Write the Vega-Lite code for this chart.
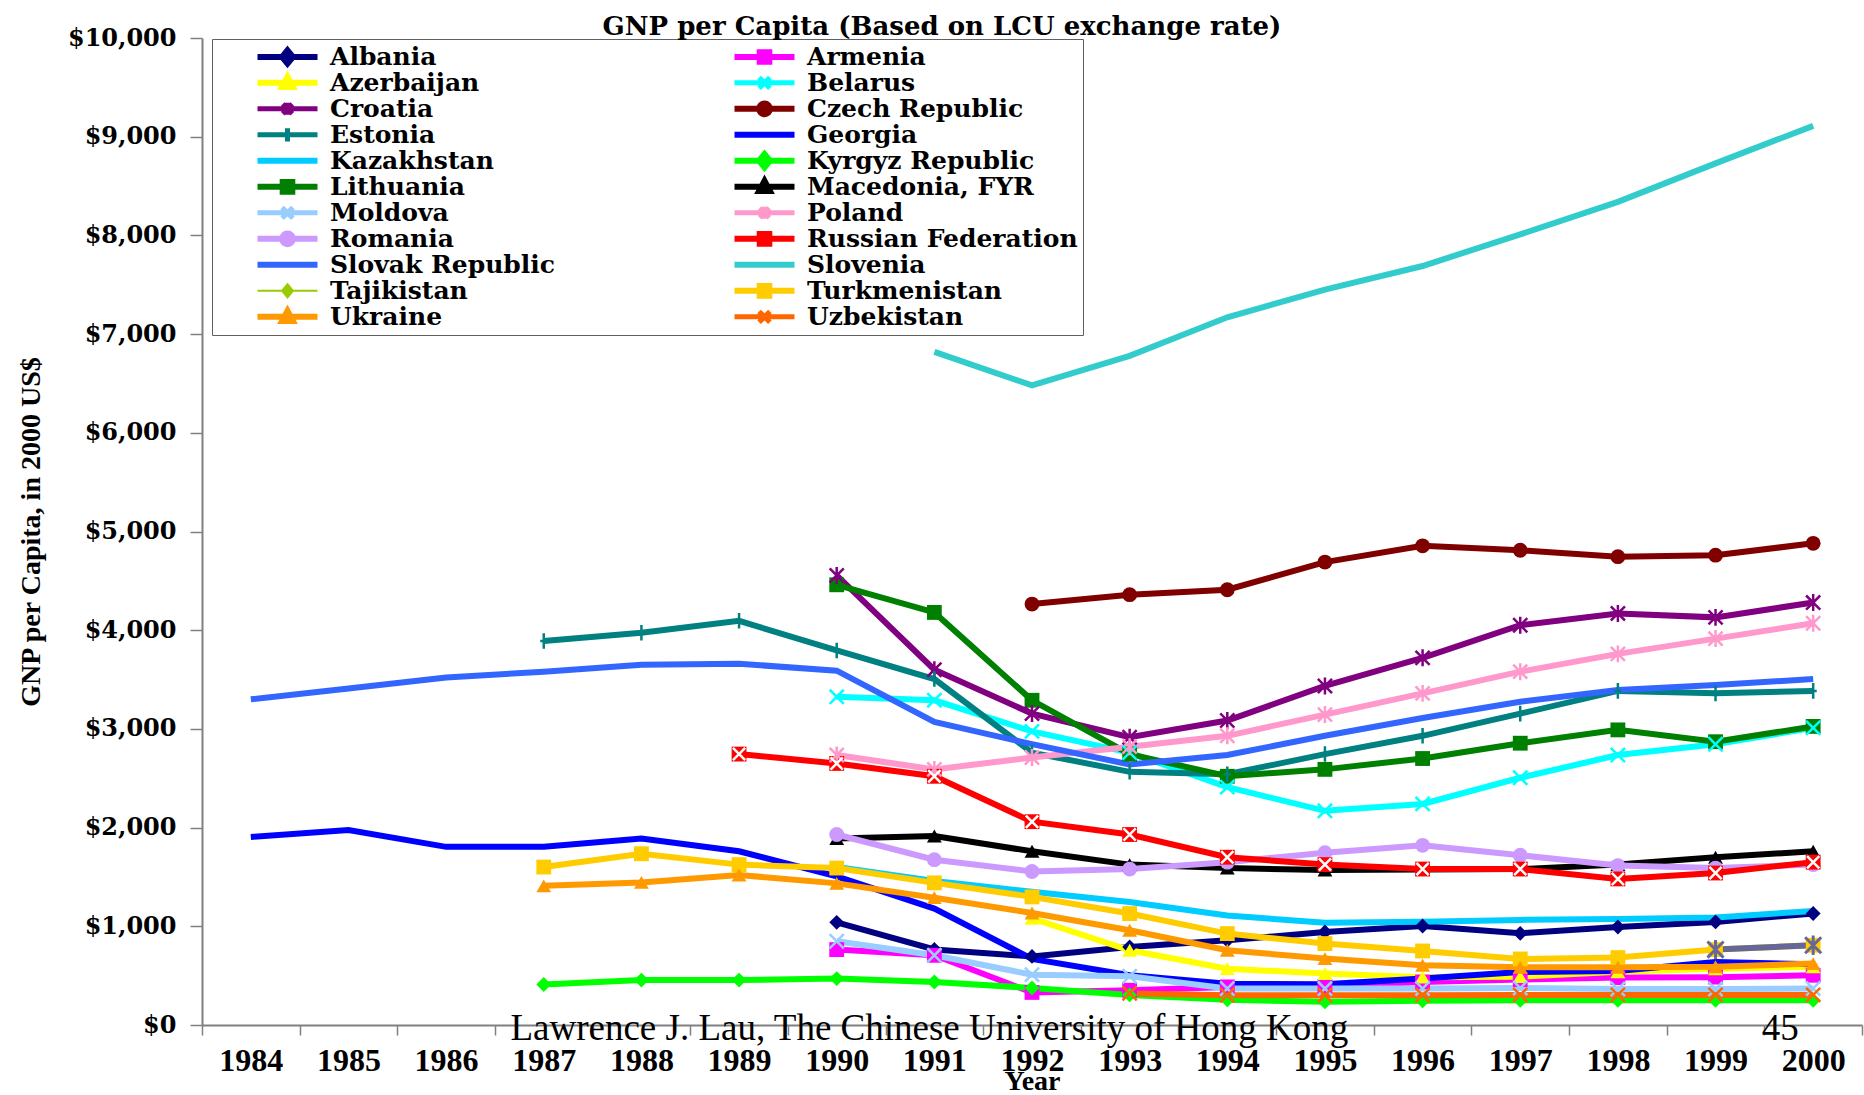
{
  "$schema": "https://vega.github.io/schema/vega-lite/v6.json",
  "autosize": {"type": "none"},
  "padding": {"left": 202, "top": 38, "right": 2, "bottom": 70},
  "width": 1660,
  "height": 987,
  "background": "white",
  "title": {
    "text": "GNP per Capita (Based on LCU exchange rate)",
    "font": "DejaVu Serif",
    "fontWeight": "bold",
    "fontSize": 26,
    "anchor": "middle",
    "frame": "group",
    "dx": -90,
    "offset": -14,
    "color": "black"
  },
  "datasets": {
    "gnp": [
      {"country": "Albania", "year": 1990, "v": 1040}, {"country": "Albania", "year": 1991, "v": 765}, {"country": "Albania", "year": 1992, "v": 695}, {"country": "Albania", "year": 1993, "v": 790}, {"country": "Albania", "year": 1994, "v": 858}, {"country": "Albania", "year": 1995, "v": 943}, {"country": "Albania", "year": 1996, "v": 1003}, {"country": "Albania", "year": 1997, "v": 929}, {"country": "Albania", "year": 1998, "v": 993}, {"country": "Albania", "year": 1999, "v": 1044}, {"country": "Albania", "year": 2000, "v": 1130},
      {"country": "Armenia", "year": 1990, "v": 764}, {"country": "Armenia", "year": 1991, "v": 706}, {"country": "Armenia", "year": 1992, "v": 330}, {"country": "Armenia", "year": 1993, "v": 352}, {"country": "Armenia", "year": 1994, "v": 386}, {"country": "Armenia", "year": 1995, "v": 392}, {"country": "Armenia", "year": 1996, "v": 436}, {"country": "Armenia", "year": 1997, "v": 460}, {"country": "Armenia", "year": 1998, "v": 480}, {"country": "Armenia", "year": 1999, "v": 485}, {"country": "Armenia", "year": 2000, "v": 504},
      {"country": "Azerbaijan", "year": 1992, "v": 1080}, {"country": "Azerbaijan", "year": 1993, "v": 757}, {"country": "Azerbaijan", "year": 1994, "v": 571}, {"country": "Azerbaijan", "year": 1995, "v": 521}, {"country": "Azerbaijan", "year": 1996, "v": 485}, {"country": "Azerbaijan", "year": 1997, "v": 490}, {"country": "Azerbaijan", "year": 1998, "v": 540}, {"country": "Azerbaijan", "year": 1999, "v": 570}, {"country": "Azerbaijan", "year": 2000, "v": 590},
      {"country": "Belarus", "year": 1990, "v": 3325}, {"country": "Belarus", "year": 1991, "v": 3290}, {"country": "Belarus", "year": 1992, "v": 2975}, {"country": "Belarus", "year": 1993, "v": 2760}, {"country": "Belarus", "year": 1994, "v": 2410}, {"country": "Belarus", "year": 1995, "v": 2170}, {"country": "Belarus", "year": 1996, "v": 2240}, {"country": "Belarus", "year": 1997, "v": 2505}, {"country": "Belarus", "year": 1998, "v": 2735}, {"country": "Belarus", "year": 1999, "v": 2845}, {"country": "Belarus", "year": 2000, "v": 3010},
      {"country": "Croatia", "year": 1990, "v": 4555}, {"country": "Croatia", "year": 1991, "v": 3600}, {"country": "Croatia", "year": 1992, "v": 3155}, {"country": "Croatia", "year": 1993, "v": 2915}, {"country": "Croatia", "year": 1994, "v": 3085}, {"country": "Croatia", "year": 1995, "v": 3435}, {"country": "Croatia", "year": 1996, "v": 3720}, {"country": "Croatia", "year": 1997, "v": 4050}, {"country": "Croatia", "year": 1998, "v": 4170}, {"country": "Croatia", "year": 1999, "v": 4130}, {"country": "Croatia", "year": 2000, "v": 4280},
      {"country": "Czech Republic", "year": 1992, "v": 4265}, {"country": "Czech Republic", "year": 1993, "v": 4360}, {"country": "Czech Republic", "year": 1994, "v": 4410}, {"country": "Czech Republic", "year": 1995, "v": 4690}, {"country": "Czech Republic", "year": 1996, "v": 4855}, {"country": "Czech Republic", "year": 1997, "v": 4810}, {"country": "Czech Republic", "year": 1998, "v": 4745}, {"country": "Czech Republic", "year": 1999, "v": 4760}, {"country": "Czech Republic", "year": 2000, "v": 4880},
      {"country": "Estonia", "year": 1987, "v": 3890}, {"country": "Estonia", "year": 1988, "v": 3975}, {"country": "Estonia", "year": 1989, "v": 4095}, {"country": "Estonia", "year": 1990, "v": 3795}, {"country": "Estonia", "year": 1991, "v": 3505}, {"country": "Estonia", "year": 1992, "v": 2760}, {"country": "Estonia", "year": 1993, "v": 2565}, {"country": "Estonia", "year": 1994, "v": 2540}, {"country": "Estonia", "year": 1995, "v": 2745}, {"country": "Estonia", "year": 1996, "v": 2930}, {"country": "Estonia", "year": 1997, "v": 3155}, {"country": "Estonia", "year": 1998, "v": 3385}, {"country": "Estonia", "year": 1999, "v": 3360}, {"country": "Estonia", "year": 2000, "v": 3385},
      {"country": "Georgia", "year": 1984, "v": 1905}, {"country": "Georgia", "year": 1985, "v": 1975}, {"country": "Georgia", "year": 1986, "v": 1805}, {"country": "Georgia", "year": 1987, "v": 1805}, {"country": "Georgia", "year": 1988, "v": 1890}, {"country": "Georgia", "year": 1989, "v": 1760}, {"country": "Georgia", "year": 1990, "v": 1505}, {"country": "Georgia", "year": 1991, "v": 1179}, {"country": "Georgia", "year": 1992, "v": 670}, {"country": "Georgia", "year": 1993, "v": 504}, {"country": "Georgia", "year": 1994, "v": 419}, {"country": "Georgia", "year": 1995, "v": 412}, {"country": "Georgia", "year": 1996, "v": 470}, {"country": "Georgia", "year": 1997, "v": 537}, {"country": "Georgia", "year": 1998, "v": 547}, {"country": "Georgia", "year": 1999, "v": 639}, {"country": "Georgia", "year": 2000, "v": 615},
      {"country": "Kazakhstan", "year": 1990, "v": 1600}, {"country": "Kazakhstan", "year": 1991, "v": 1460}, {"country": "Kazakhstan", "year": 1992, "v": 1350}, {"country": "Kazakhstan", "year": 1993, "v": 1247}, {"country": "Kazakhstan", "year": 1994, "v": 1110}, {"country": "Kazakhstan", "year": 1995, "v": 1035}, {"country": "Kazakhstan", "year": 1996, "v": 1045}, {"country": "Kazakhstan", "year": 1997, "v": 1065}, {"country": "Kazakhstan", "year": 1998, "v": 1075}, {"country": "Kazakhstan", "year": 1999, "v": 1090}, {"country": "Kazakhstan", "year": 2000, "v": 1155},
      {"country": "Kyrgyz Republic", "year": 1987, "v": 410}, {"country": "Kyrgyz Republic", "year": 1988, "v": 455}, {"country": "Kyrgyz Republic", "year": 1989, "v": 455}, {"country": "Kyrgyz Republic", "year": 1990, "v": 470}, {"country": "Kyrgyz Republic", "year": 1991, "v": 436}, {"country": "Kyrgyz Republic", "year": 1992, "v": 375}, {"country": "Kyrgyz Republic", "year": 1993, "v": 305}, {"country": "Kyrgyz Republic", "year": 1994, "v": 255}, {"country": "Kyrgyz Republic", "year": 1995, "v": 235}, {"country": "Kyrgyz Republic", "year": 1996, "v": 245}, {"country": "Kyrgyz Republic", "year": 1997, "v": 250}, {"country": "Kyrgyz Republic", "year": 1998, "v": 250}, {"country": "Kyrgyz Republic", "year": 1999, "v": 250}, {"country": "Kyrgyz Republic", "year": 2000, "v": 250},
      {"country": "Lithuania", "year": 1990, "v": 4460}, {"country": "Lithuania", "year": 1991, "v": 4180}, {"country": "Lithuania", "year": 1992, "v": 3290}, {"country": "Lithuania", "year": 1993, "v": 2745}, {"country": "Lithuania", "year": 1994, "v": 2520}, {"country": "Lithuania", "year": 1995, "v": 2590}, {"country": "Lithuania", "year": 1996, "v": 2700}, {"country": "Lithuania", "year": 1997, "v": 2855}, {"country": "Lithuania", "year": 1998, "v": 2990}, {"country": "Lithuania", "year": 1999, "v": 2870}, {"country": "Lithuania", "year": 2000, "v": 3025},
      {"country": "Macedonia, FYR", "year": 1990, "v": 1890}, {"country": "Macedonia, FYR", "year": 1991, "v": 1915}, {"country": "Macedonia, FYR", "year": 1992, "v": 1760}, {"country": "Macedonia, FYR", "year": 1993, "v": 1625}, {"country": "Macedonia, FYR", "year": 1994, "v": 1590}, {"country": "Macedonia, FYR", "year": 1995, "v": 1570}, {"country": "Macedonia, FYR", "year": 1996, "v": 1575}, {"country": "Macedonia, FYR", "year": 1997, "v": 1580}, {"country": "Macedonia, FYR", "year": 1998, "v": 1625}, {"country": "Macedonia, FYR", "year": 1999, "v": 1700}, {"country": "Macedonia, FYR", "year": 2000, "v": 1760},
      {"country": "Moldova", "year": 1990, "v": 848}, {"country": "Moldova", "year": 1991, "v": 706}, {"country": "Moldova", "year": 1992, "v": 510}, {"country": "Moldova", "year": 1993, "v": 494}, {"country": "Moldova", "year": 1994, "v": 369}, {"country": "Moldova", "year": 1995, "v": 369}, {"country": "Moldova", "year": 1996, "v": 370}, {"country": "Moldova", "year": 1997, "v": 375}, {"country": "Moldova", "year": 1998, "v": 365}, {"country": "Moldova", "year": 1999, "v": 365}, {"country": "Moldova", "year": 2000, "v": 370},
      {"country": "Poland", "year": 1990, "v": 2735}, {"country": "Poland", "year": 1991, "v": 2590}, {"country": "Poland", "year": 1992, "v": 2710}, {"country": "Poland", "year": 1993, "v": 2820}, {"country": "Poland", "year": 1994, "v": 2930}, {"country": "Poland", "year": 1995, "v": 3145}, {"country": "Poland", "year": 1996, "v": 3360}, {"country": "Poland", "year": 1997, "v": 3580}, {"country": "Poland", "year": 1998, "v": 3760}, {"country": "Poland", "year": 1999, "v": 3915}, {"country": "Poland", "year": 2000, "v": 4070},
      {"country": "Romania", "year": 1990, "v": 1930}, {"country": "Romania", "year": 1991, "v": 1675}, {"country": "Romania", "year": 1992, "v": 1555}, {"country": "Romania", "year": 1993, "v": 1580}, {"country": "Romania", "year": 1994, "v": 1650}, {"country": "Romania", "year": 1995, "v": 1745}, {"country": "Romania", "year": 1996, "v": 1820}, {"country": "Romania", "year": 1997, "v": 1720}, {"country": "Romania", "year": 1998, "v": 1615}, {"country": "Romania", "year": 1999, "v": 1590}, {"country": "Romania", "year": 2000, "v": 1625},
      {"country": "Russian Federation", "year": 1989, "v": 2745}, {"country": "Russian Federation", "year": 1990, "v": 2650}, {"country": "Russian Federation", "year": 1991, "v": 2520}, {"country": "Russian Federation", "year": 1992, "v": 2060}, {"country": "Russian Federation", "year": 1993, "v": 1930}, {"country": "Russian Federation", "year": 1994, "v": 1700}, {"country": "Russian Federation", "year": 1995, "v": 1625}, {"country": "Russian Federation", "year": 1996, "v": 1580}, {"country": "Russian Federation", "year": 1997, "v": 1580}, {"country": "Russian Federation", "year": 1998, "v": 1480}, {"country": "Russian Federation", "year": 1999, "v": 1540}, {"country": "Russian Federation", "year": 2000, "v": 1650},
      {"country": "Slovak Republic", "year": 1984, "v": 3300}, {"country": "Slovak Republic", "year": 1985, "v": 3410}, {"country": "Slovak Republic", "year": 1986, "v": 3520}, {"country": "Slovak Republic", "year": 1987, "v": 3580}, {"country": "Slovak Republic", "year": 1988, "v": 3650}, {"country": "Slovak Republic", "year": 1989, "v": 3660}, {"country": "Slovak Republic", "year": 1990, "v": 3590}, {"country": "Slovak Republic", "year": 1991, "v": 3070}, {"country": "Slovak Republic", "year": 1992, "v": 2845}, {"country": "Slovak Republic", "year": 1993, "v": 2640}, {"country": "Slovak Republic", "year": 1994, "v": 2735}, {"country": "Slovak Republic", "year": 1995, "v": 2930}, {"country": "Slovak Republic", "year": 1996, "v": 3110}, {"country": "Slovak Republic", "year": 1997, "v": 3275}, {"country": "Slovak Republic", "year": 1998, "v": 3395}, {"country": "Slovak Republic", "year": 1999, "v": 3445}, {"country": "Slovak Republic", "year": 2000, "v": 3505},
      {"country": "Slovenia", "year": 1991, "v": 6820}, {"country": "Slovenia", "year": 1992, "v": 6480}, {"country": "Slovenia", "year": 1993, "v": 6780}, {"country": "Slovenia", "year": 1994, "v": 7170}, {"country": "Slovenia", "year": 1995, "v": 7450}, {"country": "Slovenia", "year": 1996, "v": 7690}, {"country": "Slovenia", "year": 1997, "v": 8010}, {"country": "Slovenia", "year": 1998, "v": 8340}, {"country": "Slovenia", "year": 1999, "v": 8730}, {"country": "Slovenia", "year": 2000, "v": 9110},
      {"country": "Turkmenistan", "year": 1987, "v": 1600}, {"country": "Turkmenistan", "year": 1988, "v": 1735}, {"country": "Turkmenistan", "year": 1989, "v": 1625}, {"country": "Turkmenistan", "year": 1990, "v": 1590}, {"country": "Turkmenistan", "year": 1991, "v": 1440}, {"country": "Turkmenistan", "year": 1992, "v": 1298}, {"country": "Turkmenistan", "year": 1993, "v": 1129}, {"country": "Turkmenistan", "year": 1994, "v": 926}, {"country": "Turkmenistan", "year": 1995, "v": 825}, {"country": "Turkmenistan", "year": 1996, "v": 750}, {"country": "Turkmenistan", "year": 1997, "v": 669}, {"country": "Turkmenistan", "year": 1998, "v": 683}, {"country": "Turkmenistan", "year": 1999, "v": 764}, {"country": "Turkmenistan", "year": 2000, "v": 808},
      {"country": "Ukraine", "year": 1987, "v": 1410}, {"country": "Ukraine", "year": 1988, "v": 1445}, {"country": "Ukraine", "year": 1989, "v": 1520}, {"country": "Ukraine", "year": 1990, "v": 1435}, {"country": "Ukraine", "year": 1991, "v": 1290}, {"country": "Ukraine", "year": 1992, "v": 1135}, {"country": "Ukraine", "year": 1993, "v": 960}, {"country": "Ukraine", "year": 1994, "v": 757}, {"country": "Ukraine", "year": 1995, "v": 673}, {"country": "Ukraine", "year": 1996, "v": 605}, {"country": "Ukraine", "year": 1997, "v": 585}, {"country": "Ukraine", "year": 1998, "v": 585}, {"country": "Ukraine", "year": 1999, "v": 590}, {"country": "Ukraine", "year": 2000, "v": 622},
      {"country": "Uzbekistan", "year": 1993, "v": 320}, {"country": "Uzbekistan", "year": 1994, "v": 301}, {"country": "Uzbekistan", "year": 1995, "v": 301}, {"country": "Uzbekistan", "year": 1996, "v": 302}, {"country": "Uzbekistan", "year": 1997, "v": 305}, {"country": "Uzbekistan", "year": 1998, "v": 305}, {"country": "Uzbekistan", "year": 1999, "v": 305}, {"country": "Uzbekistan", "year": 2000, "v": 305}
    ],
    "extra": [
      {"series": "Unlabelled series", "year": 1999, "v": 764}, {"series": "Unlabelled series", "year": 2000, "v": 808}
    ],
    "notes": [
      {"label": "Lawrence J. Lau, The Chinese University of Hong Kong", "year": 1991, "v": 0, "kind": "footer"},
      {"label": "45", "year": 2000, "v": 0, "kind": "page"}
    ]
  },
  "encoding": {
    "x": {
      "field": "year",
      "type": "ordinal",
      "scale": {"type": "band", "domain": [1984,1985,1986,1987,1988,1989,1990,1991,1992,1993,1994,1995,1996,1997,1998,1999,2000], "paddingInner": 0, "paddingOuter": 0},
      "axis": {
        "title": "Year",
        "labelAngle": 0,
        "tickBand": "extent",
        "labelFont": "Liberation Serif",
        "labelFontWeight": "bold",
        "labelFontSize": 32,
        "labelColor": "black",
        "labelPadding": 10,
        "tickSize": 10,
        "tickColor": "#808080",
        "tickWidth": 1.5,
        "domainColor": "#808080",
        "domainWidth": 2,
        "titleFont": "Liberation Serif",
        "titleFontWeight": "bold",
        "titleFontSize": 28,
        "titleColor": "black",
        "titlePadding": -9
      }
    },
    "y": {
      "field": "v",
      "type": "quantitative",
      "scale": {"domain": [0, 10000], "nice": false},
      "axis": {
        "title": "GNP per Capita, in 2000 US$",
        "values": [0,1000,2000,3000,4000,5000,6000,7000,8000,9000,10000],
        "format": "$,d",
        "grid": false,
        "labelFont": "DejaVu Serif",
        "labelFontWeight": "bold",
        "labelFontSize": 24,
        "labelColor": "black",
        "labelPadding": 14,
        "tickSize": 12,
        "tickColor": "#808080",
        "tickWidth": 1.5,
        "domainColor": "#808080",
        "domainWidth": 2,
        "titleFont": "Liberation Serif",
        "titleFontWeight": "bold",
        "titleFontSize": 28,
        "titleColor": "black",
        "titlePadding": 22
      }
    }
  },
  "layer": [
    {
      "data": {"name": "gnp"},
      "mark": {"type": "line", "strokeWidth": 6},
      "encoding": {
        "color": {
          "field": "country",
          "type": "nominal",
          "scale": {
            "domain": ["Albania","Azerbaijan","Croatia","Estonia","Kazakhstan","Lithuania","Moldova","Romania","Slovak Republic","Tajikistan","Ukraine","Armenia","Belarus","Czech Republic","Georgia","Kyrgyz Republic","Macedonia, FYR","Poland","Russian Federation","Slovenia","Turkmenistan","Uzbekistan"],
            "range": ["#000080","#FFFF00","#800080","#008080","#00CCFF","#008000","#99CCFF","#CC99FF","#3366FF","#99CC00","#FF9900","#FF00FF","#00FFFF","#800000","#0000FF","#00FF00","#000000","#FF99CC","#FF0000","#33CCCC","#FFCC00","#FF6600"]
          },
          "legend": {
            "title": null,
            "orient": "none",
            "legendX": 10,
            "legendY": 1,
            "columns": 2,
            "columnPadding": 138,
            "rowPadding": 0,
            "clipHeight": 25.7,
            "symbolSize": 144,
            "symbolStrokeWidth": 6,
            "symbolOffset": 82,
            "labelFont": "DejaVu Serif",
            "labelFontWeight": "bold",
            "labelFontSize": 25,
            "labelColor": "black",
            "labelOffset": 6,
            "labelLimit": 400,
            "strokeColor": "#606060",
            "fillColor": "white",
            "padding": 5,
            "encode": {
              "symbols": {
                "update": {
                  "shape": {"signal": "'M-4,-1.2M-4,1.2' + (indexof(['Albania','Kyrgyz Republic','Tajikistan'], datum.value) >= 0 ? 'M-9,0H1M-4,-1.1L-3.1,0L-4,1.1L-4.9,0Z' : indexof(['Armenia','Lithuania','Turkmenistan','Russian Federation'], datum.value) >= 0 ? 'M-9,0H1M-4.8,-0.8H-3.2V0.8H-4.8Z' : indexof(['Azerbaijan','Macedonia, FYR','Ukraine'], datum.value) >= 0 ? 'M-9,0H1M-4,-1L-3.1,0.7H-4.9Z' : indexof(['Czech Republic','Romania'], datum.value) >= 0 ? 'M-9,0H1M-4.9,0A0.9,0.9 0 1 0 -3.1,0A0.9,0.9 0 1 0 -4.9,0Z' : indexof(['Belarus','Moldova','Uzbekistan'], datum.value) >= 0 ? 'M-9,0H1M-4.9,-0.9L-3.1,0.9M-4.9,0.9L-3.1,-0.9' : indexof(['Croatia','Poland'], datum.value) >= 0 ? 'M-9,0H1M-4.8,-0.8L-3.2,0.8M-4.8,0.8L-3.2,-0.8M-4,-1L-4,1' : datum.value === 'Estonia' ? 'M-9,0H1M-4,-1.1V1.1' : 'M-9,0H1')"},
                  "stroke": {"scale": "color", "field": "value"},
                  "fill": {"scale": "color", "field": "value"},
                  "strokeWidth": {"signal": "datum.value === 'Tajikistan' ? 2 : (indexof(['Belarus','Moldova','Uzbekistan','Croatia','Poland','Estonia'], datum.value) >= 0 ? 5 : 6)"},
                  "opacity": {"value": 1}
                }
              }
            }
          }
        }
      }
    },
    {
      "data": {"name": "extra"},
      "mark": {"type": "line", "strokeWidth": 6, "color": "#666699"},
      "encoding": {}
    },
    {
      "data": {"name": "gnp"},
      "transform": [{"filter": {"field": "country", "oneOf": ["Albania","Armenia","Azerbaijan","Czech Republic","Kyrgyz Republic","Lithuania","Macedonia, FYR","Romania","Russian Federation","Turkmenistan","Ukraine"]}}],
      "mark": {"type": "point", "filled": true, "opacity": 1, "size": 220},
      "encoding": {
        "color": {"field": "country", "type": "nominal"},
        "shape": {
          "field": "country",
          "type": "nominal",
          "legend": null,
          "scale": {
            "domain": ["Albania","Armenia","Azerbaijan","Belarus","Croatia","Czech Republic","Estonia","Kyrgyz Republic","Lithuania","Macedonia, FYR","Moldova","Poland","Romania","Russian Federation","Turkmenistan","Ukraine","Uzbekistan"],
            "range": ["diamond","square","triangle-up","M-1,-1L1,1M-1,1L1,-1","M-1,-1L1,1M-1,1L1,-1M0,-1.2L0,1.2","circle","M0,-1.1L0,1.1M-0.5,0L0.5,0","diamond","square","triangle-up","M-1,-1L1,1M-1,1L1,-1","M-1,-1L1,1M-1,1L1,-1M0,-1.2L0,1.2","circle","square","square","triangle-up","M-1,-1L1,1M-1,1L1,-1"]
          }
        }
      }
    },
    {
      "data": {"name": "gnp"},
      "transform": [{"filter": {"field": "country", "oneOf": ["Belarus","Croatia","Estonia","Moldova","Poland","Uzbekistan"]}}],
      "mark": {"type": "point", "filled": false, "opacity": 1, "size": 200, "strokeWidth": 2.5},
      "encoding": {
        "color": {"field": "country", "type": "nominal"},
        "shape": {
          "field": "country",
          "type": "nominal",
          "legend": null,
          "scale": {
            "domain": ["Albania","Armenia","Azerbaijan","Belarus","Croatia","Czech Republic","Estonia","Kyrgyz Republic","Lithuania","Macedonia, FYR","Moldova","Poland","Romania","Russian Federation","Turkmenistan","Ukraine","Uzbekistan"],
            "range": ["diamond","square","triangle-up","M-1,-1L1,1M-1,1L1,-1","M-1,-1L1,1M-1,1L1,-1M0,-1.2L0,1.2","circle","M0,-1.1L0,1.1M-0.5,0L0.5,0","diamond","square","triangle-up","M-1,-1L1,1M-1,1L1,-1","M-1,-1L1,1M-1,1L1,-1M0,-1.2L0,1.2","circle","square","square","triangle-up","M-1,-1L1,1M-1,1L1,-1"]
          }
        }
      }
    },
    {
      "data": {"name": "gnp"},
      "transform": [{"filter": {"field": "country", "equal": "Russian Federation"}}],
      "mark": {"type": "point", "filled": false, "opacity": 1, "size": 150, "strokeWidth": 2.5, "color": "white", "shape": "M-1,-1L1,1M-1,1L1,-1"},
      "encoding": {}
    },
    {
      "data": {"name": "extra"},
      "mark": {"type": "point", "filled": false, "opacity": 1, "size": 260, "strokeWidth": 3, "color": "#666699", "shape": "M-1,-1L1,1M-1,1L1,-1M0,-1.2L0,1.2"},
      "encoding": {}
    },
    {
      "data": {"name": "notes"},
      "transform": [{"filter": {"field": "kind", "equal": "footer"}}],
      "mark": {"type": "text", "font": "Liberation Serif", "fontSize": 37, "color": "black", "align": "center", "baseline": "alphabetic", "dy": 15, "dx": -5},
      "encoding": {"text": {"field": "label"}}
    },
    {
      "data": {"name": "notes"},
      "transform": [{"filter": {"field": "kind", "equal": "page"}}],
      "mark": {"type": "text", "font": "Liberation Serif", "fontSize": 37, "color": "black", "align": "center", "baseline": "alphabetic", "dy": 15, "dx": -33},
      "encoding": {"text": {"field": "label"}}
    }
  ],
  "config": {
    "view": {"stroke": null}
  }
}
